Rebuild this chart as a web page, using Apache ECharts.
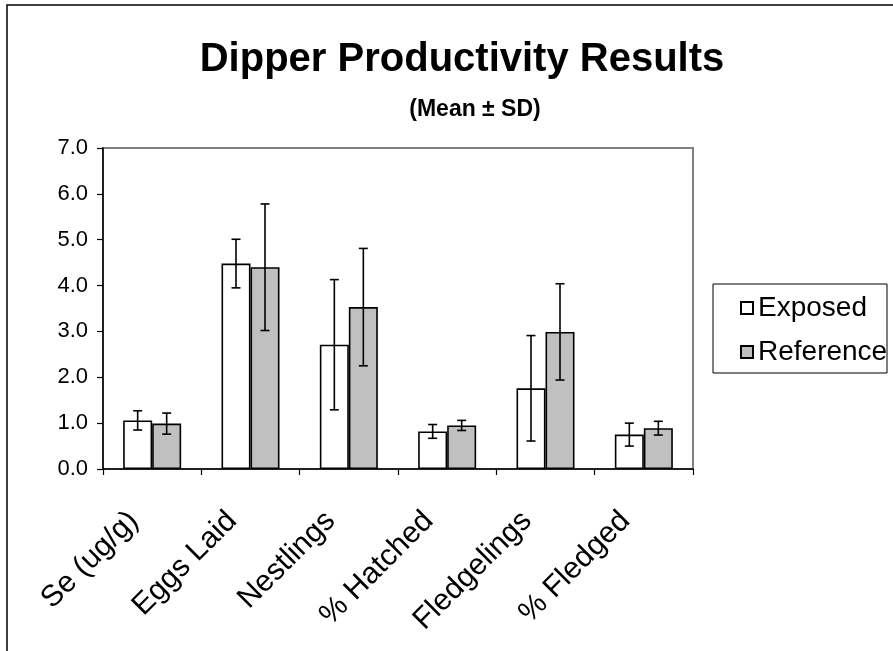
<!DOCTYPE html>
<html>
<head>
<meta charset="utf-8">
<script src="https://cdn.jsdelivr.net/npm/echarts@6/dist/echarts.min.js"></script>
<style>
html,body{margin:0;padding:0;background:#fff;}
#chart{width:893px;height:651px;}
</style>
</head>
<body>
<div id="chart"></div>
<script>
const categories = ['Se (ug/g)', 'Eggs Laid', 'Nestlings', '% Hatched', 'Fledgelings', '% Fledged'];
const exposedMean = [1.06, 4.48, 2.71, 0.82, 1.76, 0.75];
const exposedSD   = [0.21, 0.53, 1.42, 0.15, 1.15, 0.25];
const referenceMean = [0.99, 4.40, 3.53, 0.95, 2.99, 0.89];
const referenceSD   = [0.23, 1.38, 1.28, 0.11, 1.05, 0.15];
const seriesNames = ['Exposed', 'Reference'];
const yTicks = [0, 1, 2, 3, 4, 5, 6, 7];

const FONT = '"Liberation Sans", Arial, sans-serif';
const BAR_W = 29;

function errorSeries(name, means, sds, side) {
  const data = means.map((m, i) => [i, m - sds[i], m + sds[i]]);
  return {
    type: 'custom',
    name: name + ' SD',
    z: 10,
    silent: true,
    data: data,
    renderItem: function (params, api) {
      const i = api.value(0);
      const lo = api.coord([i, api.value(1)]);
      const hi = api.coord([i, api.value(2)]);
      const x = lo[0] + side * BAR_W / 2;
      const cap = 4.5;
      const style = { stroke: '#000', lineWidth: 1.6, fill: null };
      return {
        type: 'group',
        children: [
          { type: 'line', shape: { x1: x, y1: lo[1], x2: x, y2: hi[1] }, style: style },
          { type: 'line', shape: { x1: x - cap, y1: hi[1], x2: x + cap, y2: hi[1] }, style: style },
          { type: 'line', shape: { x1: x - cap, y1: lo[1], x2: x + cap, y2: lo[1] }, style: style }
        ]
      };
    }
  };
}

const chart = echarts.init(document.getElementById('chart'));
chart.setOption({
  backgroundColor: '#fff',
  animation: false,
  title: [
    { text: 'Dipper Productivity Results', left: 457, textAlign: 'center', top: 35,
      textStyle: { fontFamily: FONT, fontSize: 40, fontWeight: 'bold', color: '#000' } },
    { text: '(Mean \u00b1 SD)', left: 470, textAlign: 'center', top: 93,
      textStyle: { fontFamily: FONT, fontSize: 23, fontWeight: 'bold', color: '#000' } }
  ],
  legend: {
    orient: 'vertical',
    left: 735, top: 289,
    itemWidth: 12, itemHeight: 12, itemGap: 16,
    icon: 'rect',
    textStyle: { fontFamily: FONT, fontSize: 28, color: '#000' },
    data: seriesNames
  },
  grid: { left: 103, right: 200, top: 148, bottom: 182, show: true, borderColor: '#808080', borderWidth: 2, backgroundColor: '#fff' },
  xAxis: {
    type: 'category',
    data: categories,
    axisLine: { lineStyle: { color: '#000', width: 1.5 } },
    axisTick: { show: true, length: 6, lineStyle: { color: '#000', width: 1.2 } },
    axisLabel: { rotate: 45, margin: 29, padding: [0, 26, 0, 0], fontFamily: FONT, fontSize: 30, color: '#000', interval: 0 }
  },
  yAxis: {
    type: 'value',
    min: yTicks[0], max: yTicks[yTicks.length - 1], interval: 1,
    axisLine: { show: true, lineStyle: { color: '#000', width: 1.5 } },
    axisTick: { show: true, length: 6, lineStyle: { color: '#000', width: 1.2 } },
    splitLine: { show: false },
    axisLabel: { margin: 15, fontFamily: FONT, fontSize: 22, color: '#000', formatter: v => v.toFixed(1) }
  },
  series: [
    { name: seriesNames[0], type: 'bar', data: exposedMean, barWidth: BAR_W, barGap: '0%',
      itemStyle: { color: '#ffffff', borderColor: '#000', borderWidth: 1.6 } },
    { name: seriesNames[1], type: 'bar', data: referenceMean, barWidth: BAR_W, barGap: '0%',
      itemStyle: { color: '#c0c0c0', borderColor: '#000', borderWidth: 1.6 } },
    errorSeries(seriesNames[0], exposedMean, exposedSD, -1),
    errorSeries(seriesNames[1], referenceMean, referenceSD, 1)
  ],
  graphic: [
    { type: 'rect', shape: { x: 7, y: 5, width: 1000, height: 1000 }, style: { fill: null, stroke: '#000', lineWidth: 1.5 }, silent: true, z: 100 },
    { type: 'rect', shape: { x: 713, y: 284, width: 174, height: 89 }, style: { fill: null, stroke: '#000', lineWidth: 1 }, silent: true, z: 100 }
  ]
});
</script>
</body>
</html>
